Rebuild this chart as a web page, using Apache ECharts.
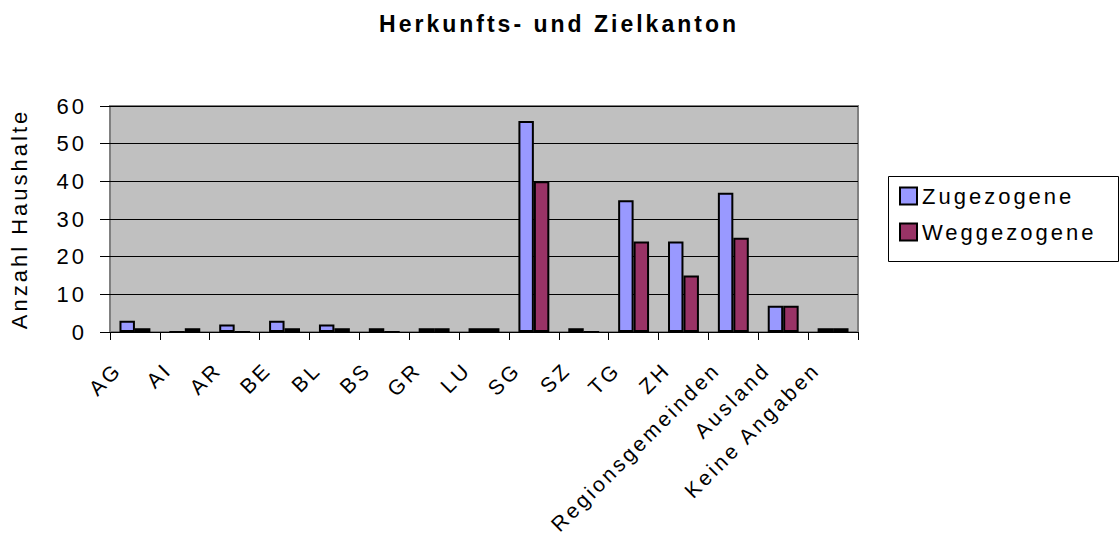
<!DOCTYPE html>
<html>
<head>
<meta charset="utf-8">
<script src="https://cdn.jsdelivr.net/npm/echarts@6/dist/echarts.min.js"></script>
<style>
  html, body { margin: 0; padding: 0; background: #fff; }
  #chart { width: 1120px; height: 537px; }
  /* the old chart renders its text quite spread out */
  #chart text { letter-spacing: 3px; }
</style>
</head>
<body>
<div id="chart"></div>
<script>
// Kantone / Herkunft
const categories = ['AG', 'AI', 'AR', 'BE', 'BL', 'BS', 'GR', 'LU', 'SG', 'SZ', 'TG', 'ZH', 'Regionsgemeinden', 'Ausland', 'Keine Angaben'];
const zugezogene = [3, 0, 2, 3, 2, 1, 1, 1, 56, 1, 35, 24, 37, 7, 1];
const weggezogene = [1, 1, 0, 1, 1, 0, 1, 1, 40, 0, 24, 15, 25, 7, 1];
const yTicks = { min: 0, max: 60, interval: 10 };

const font = 'Arial, Liberation Sans, sans-serif';

const chart = echarts.init(document.getElementById('chart'), null, { renderer: 'svg' });
chart.setOption({
  animation: false,
  textStyle: { fontFamily: font },
  title: {
    text: 'Herkunfts- und Zielkanton',
    left: 554, top: 7, textAlign: 'center',
    textStyle: { fontSize: 23, fontWeight: 'bold', color: '#000', fontFamily: font }
  },
  legend: {
    orient: 'vertical',
    left: 899, top: 185, padding: 0,
    icon: 'rect',
    itemWidth: 17, itemHeight: 17, itemGap: 14,
    textStyle: { fontSize: 22, color: '#000', fontFamily: font },
    data: ['Zugezogene', 'Weggezogene']
  },
  graphic: [{
    type: 'rect',
    shape: { x: 888.5, y: 176.5, width: 230, height: 85 },
    style: { fill: 'none', stroke: '#000', lineWidth: 1 }
  }],
  grid: {
    left: 108, right: 262, top: 106, bottom: 205,
    show: true, backgroundColor: '#C0C0C0', borderColor: '#808080', borderWidth: 2
  },
  xAxis: {
    type: 'category',
    data: categories,
    axisLine: { lineStyle: { color: '#000', width: 1 } },
    axisTick: { show: true, length: 8, lineStyle: { color: '#000' } },
    axisLabel: {
      rotate: 45, interval: 0, margin: 17,
      padding: [0, 24, 0, 0],
      fontSize: 21, color: '#000', fontFamily: font
    }
  },
  yAxis: {
    type: 'value',
    min: yTicks.min, max: yTicks.max, interval: yTicks.interval,
    name: 'Anzahl Haushalte',
    nameLocation: 'middle', nameGap: 80, nameRotate: 90,
    nameTextStyle: { fontSize: 22, color: '#000', fontFamily: font },
    axisLine: { show: false },
    axisTick: { show: true, length: 10, lineStyle: { color: '#000' } },
    axisLabel: { fontSize: 22, color: '#000', margin: 23, fontFamily: font },
    splitLine: { lineStyle: { color: '#000', width: 1 } }
  },
  series: [
    {
      name: 'Zugezogene', type: 'bar', data: zugezogene,
      barGap: '0%', barCategoryGap: '38%',
      itemStyle: { color: '#9999FF', borderColor: '#000', borderWidth: 2 }
    },
    {
      name: 'Weggezogene', type: 'bar', data: weggezogene,
      itemStyle: { color: '#993366', borderColor: '#000', borderWidth: 2 }
    }
  ]
});
</script>
</body>
</html>
